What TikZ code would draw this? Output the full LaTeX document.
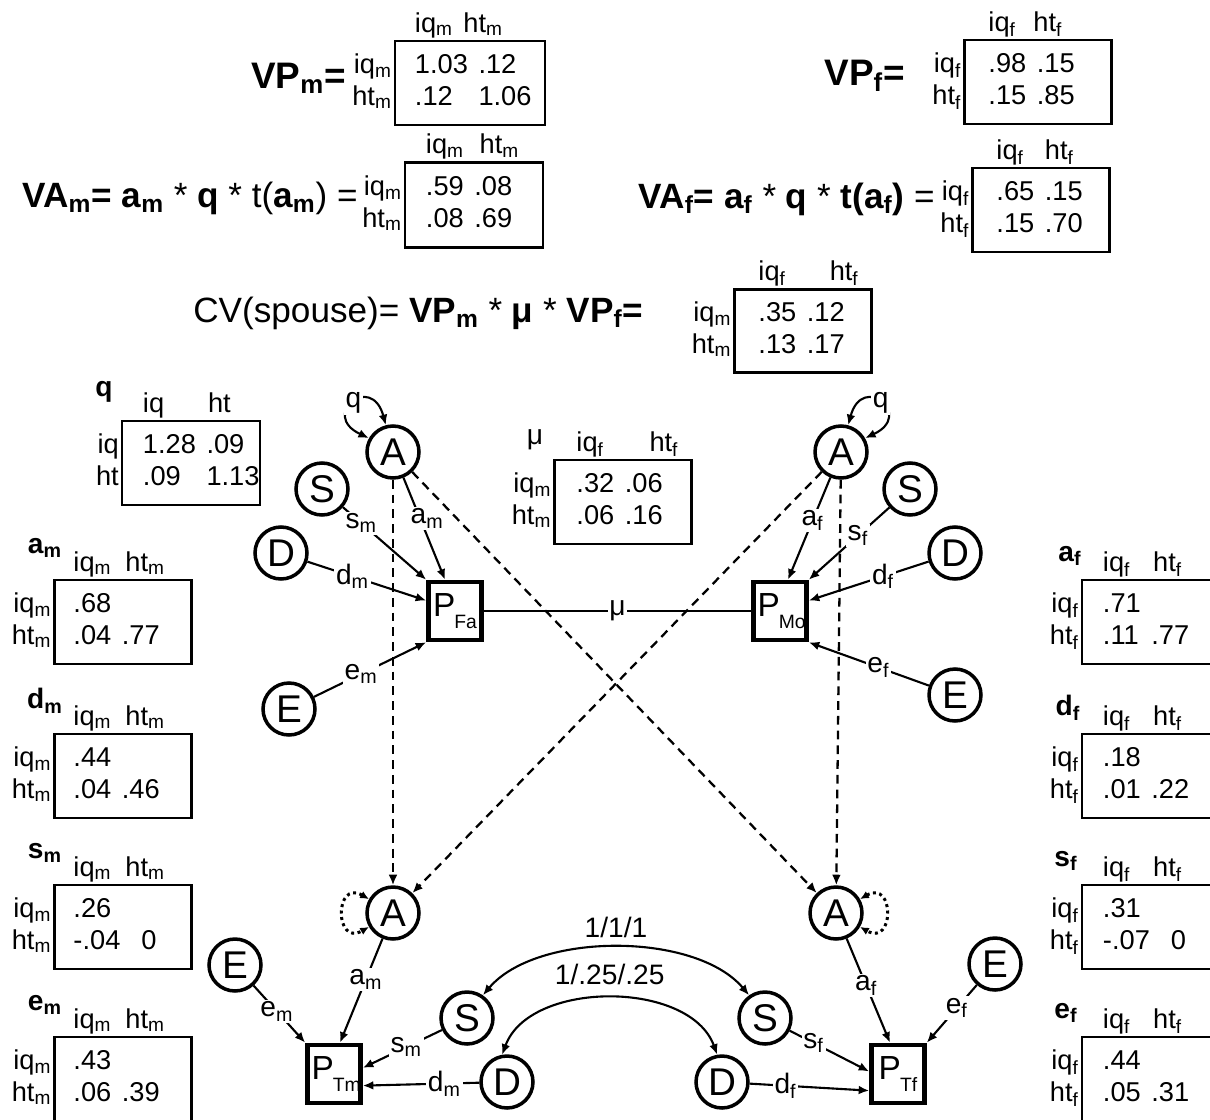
\documentclass[tikz,border=0pt]{standalone}
\usepackage{fontspec}
\setmainfont{Liberation Sans}
\usetikzlibrary{arrows.meta,positioning}

\newcommand{\sub}[1]{\textsubscript{#1}}
\newcommand{\psub}[1]{\kern-0.5pt\raisebox{-7pt}{\fontsize{11}{12}\selectfont #1}}

\tikzset{
  latent/.style={circle, draw, line width=2pt, minimum size=1.04cm, inner sep=0pt, font=\fontsize{22}{22}\selectfont},
  obs/.style={rectangle, draw, line width=2.6pt, minimum width=1.06cm, minimum height=1.16cm, inner sep=0pt, text width=0.9cm, align=center, font=\fontsize{19}{19}\selectfont},
  line/.style={-{Latex[length=6pt,width=5pt]}, line width=1.2pt},
  dline/.style={line, dash pattern=on 5pt off 3.4pt, line width=1.3pt},
  dbl/.style={{Latex[length=6pt,width=5pt]}-{Latex[length=6pt,width=5pt]}, line width=1.2pt},
  dotloop/.style={{Latex[length=5pt,width=4.5pt]}-{Latex[length=5pt,width=4.5pt]}, dotted, line width=1.7pt},
  lbl/.style={fill=white, inner sep=1pt, font=\fontsize{16}{16}\selectfont},
  matbox/.style={draw, line width=1.3pt, inner sep=0pt},
  mtext/.style={inner sep=1pt, font=\fontsize{15.5}{18}\selectfont},
  eqtext/.style={inner sep=0pt, font=\fontsize{20}{24}\selectfont},
  tname/.style={inner sep=0pt, font=\fontsize{16}{16}\selectfont\bfseries}
}

% box, values, column labels, row labels
\newcommand{\covmat}[8]{%
  \node[matbox, minimum width=#3, minimum height=#4] (#1) at #2 {};
  \node[mtext, anchor=west] (#1-v) at ([xshift=#8]#1.west)
    {\begin{tabular}{@{}l@{\hspace{6pt}}l@{}}#5\end{tabular}};
  \node[mtext, anchor=south west] (#1-c) at ([xshift=#8]#1.north west) {#6};
  \node[mtext, anchor=east] (#1-r) at (#1.west)
    {\begin{tabular}{@{}r@{}}#7\end{tabular}};
}

\begin{document}
\begin{tikzpicture}[x=0.02cm, y=-0.02cm]
  \useasboundingbox (0,0) rectangle (1210,1119);

  % equations
  \node[eqtext, anchor=base east, font=\fontsize{21}{24}\selectfont] (vpm) at (346,88) {\textbf{VP\sub{m}=}};
  \node[eqtext, anchor=base east] (vam) at (358,207)
    {\textbf{VA\sub{m}=} \textbf{a\sub{m}} * \textbf{q} * t(\textbf{a\sub{m}}) =};
  \node[eqtext, anchor=base east, font=\fontsize{21}{24}\selectfont] (vpf) at (905,85) {\textbf{VP\sub{f}=}};
  \node[eqtext, anchor=base east] (vaf) at (935,208)
    {\textbf{VA\sub{f}= a\sub{f}} * \textbf{q} * \textbf{t(a\sub{f})} =};
  \node[eqtext, anchor=base west] (cv) at (193,322)
    {CV(spouse)= \textbf{VP\sub{m}} * \textbf{μ} * \textbf{VP\sub{f}=}};

  \covmat{VPm}{(470,83)}{3.0cm}{1.68cm}{1.03 & .12\\ .12 & 1.06}{iq\sub{m}\hspace{6pt}ht\sub{m}}{iq\sub{m}\\ht\sub{m}}{0.38cm}
  \covmat{VAm}{(474,205)}{2.76cm}{1.70cm}{.59 & .08\\ .08 & .69}{iq\sub{m}\hspace{9pt}ht\sub{m}}{iq\sub{m}\\ht\sub{m}}{0.4cm}
  \covmat{VPf}{(1038,82)}{2.94cm}{1.68cm}{.98 & .15\\ .15 & .85}{iq\sub{f}\hspace{10pt}ht\sub{f}}{iq\sub{f}\hspace{6pt}\\ht\sub{f}\hspace{6pt}}{0.46cm}
  \covmat{VAf}{(1041,210)}{2.74cm}{1.68cm}{.65 & .15\\ .15 & .70}{iq\sub{f}\hspace{12pt}ht\sub{f}}{iq\sub{f}\\ht\sub{f}}{0.46cm}
  \covmat{CV}{(803,331)}{2.74cm}{1.66cm}{.35 & .12\\ .13 & .17}{iq\sub{f}\hspace{25pt}ht\sub{f}}{iq\sub{m}\\ht\sub{m}}{0.46cm}

  % parameter matrices
  \node[tname] (qname) at (104,392) {q};
  \covmat{qmat}{(191,463)}{2.76cm}{1.68cm}{1.28 & .09\\ .09 & 1.13}{iq\hspace{25pt}ht}{iq\\ht}{0.4cm}
  \node[lbl] (muname) at (535,440) {μ};
  \covmat{mumat}{(623,502)}{2.74cm}{1.68cm}{.32 & .06\\ .06 & .16}{iq\sub{f}\hspace{26pt}ht\sub{f}}{iq\sub{m}\\ht\sub{m}}{0.42cm}

  \node[tname] (amname) at (45,548) {a\sub{m}};
  \covmat{am}{(123,622)}{2.74cm}{1.68cm}{.68 & \\ .04 & .77}{iq\sub{m}\hspace{8pt}ht\sub{m}}{iq\sub{m}\\ht\sub{m}}{0.36cm}
  \node[tname] (dmname) at (45,701) {d\sub{m}};
  \covmat{dm}{(123,776)}{2.74cm}{1.68cm}{.44 & \\ .04 & .46}{iq\sub{m}\hspace{8pt}ht\sub{m}}{iq\sub{m}\\ht\sub{m}}{0.36cm}
  \node[tname] (smname) at (45,853) {s\sub{m}};
  \covmat{sm}{(123,927)}{2.74cm}{1.68cm}{.26 & \\ -.04 & \hspace{6pt}0}{iq\sub{m}\hspace{8pt}ht\sub{m}}{iq\sub{m}\\ht\sub{m}}{0.36cm}
  \node[tname] (emname) at (45,1005) {e\sub{m}};
  \covmat{em}{(123,1079)}{2.74cm}{1.68cm}{.43 & \\ .06 & .39}{iq\sub{m}\hspace{8pt}ht\sub{m}}{iq\sub{m}\\ht\sub{m}}{0.36cm}

  \node[tname] (afname) at (1070,556) {a\sub{f}};
  \covmat{af}{(1151,622)}{2.76cm}{1.68cm}{.71 & \\ .11 & .77}{iq\sub{f}\hspace{13pt}ht\sub{f}}{iq\sub{f}\\ht\sub{f}}{0.4cm}
  \node[tname] (dfname) at (1068,708) {d\sub{f}};
  \covmat{df}{(1151,776)}{2.76cm}{1.68cm}{.18 & \\ .01 & .22}{iq\sub{f}\hspace{13pt}ht\sub{f}}{iq\sub{f}\\ht\sub{f}}{0.4cm}
  \node[tname] (sfname) at (1066,861) {s\sub{f}};
  \covmat{sf}{(1151,927)}{2.76cm}{1.68cm}{.31 & \\ -.07 & \hspace{6pt}0}{iq\sub{f}\hspace{13pt}ht\sub{f}}{iq\sub{f}\\ht\sub{f}}{0.4cm}
  \node[tname] (efname) at (1066,1013) {e\sub{f}};
  \covmat{ef}{(1151,1079)}{2.76cm}{1.68cm}{.44 & \\ .05 & .31}{iq\sub{f}\hspace{13pt}ht\sub{f}}{iq\sub{f}\\ht\sub{f}}{0.4cm}

  % parents
  \node[latent] (Atl) at (393,452) {A};
  \node[latent] (Stl) at (322,489) {S};
  \node[latent] (Dtl) at (281,553) {D};
  \node[latent] (Etl) at (289,709) {E};
  \node[obs] (PFa) at (455,611) {P\psub{Fa}};
  \node[obs] (PMo) at (780,611) {P\psub{Mo}};
  \node[latent] (Atr) at (841,452) {A};
  \node[latent] (Str) at (910,489) {S};
  \node[latent] (Dtr) at (955,553) {D};
  \node[latent] (Etr) at (955,695) {E};

  % twins
  \node[latent] (Abl) at (393,913) {A};
  \node[latent] (Abr) at (836,913) {A};
  \node[latent] (Ebl) at (235,965) {E};
  \node[latent] (Ebr) at (995,964) {E};
  \node[obs] (PTm) at (334,1074) {P\psub{Tm}};
  \node[obs] (PTf) at (898,1074) {P\psub{Tf}};
  \node[latent] (Sbl) at (467,1018) {S};
  \node[latent] (Sbr) at (765,1018) {S};
  \node[latent] (Dbl) at (507,1082) {D};
  \node[latent] (Dbr) at (722,1082) {D};

  \draw[line] (Atl) -- node[lbl, pos=0.4, xshift=4pt]{a\sub{m}} ([xshift=-0.2cm]PFa.north);
  \draw[line] (Stl) -- node[lbl, pos=0.22]{s\sub{m}} (PFa.north west);
  \draw[line] (Dtl) -- node[lbl, pos=0.38]{d\sub{m}} (PFa.160);
  \draw[line] (Etl) -- node[lbl, pos=0.42]{e\sub{m}} (PFa.south west);
  \draw[line] (Atr) -- node[lbl, pos=0.42]{a\sub{f}} ([xshift=0.16cm]PMo.north);
  \draw[line] (Str) -- node[lbl, pos=0.39]{s\sub{f}} (PMo.north east);
  \draw[line] (Dtr) -- node[lbl, pos=0.38]{d\sub{f}} (PMo.20);
  \draw[line] (Etr) -- node[lbl, pos=0.42]{e\sub{f}} (PMo.south east);
  \draw[line width=1.2pt] (PFa) -- node[lbl]{μ} (PMo);

  \draw[dbl] (Atl.105) .. controls +(105:1.1cm) and +(155:1.1cm) .. node[lbl]{q} (Atl.150);
  \draw[dbl] (Atr.75) .. controls +(75:1.1cm) and +(25:1.1cm) .. node[lbl]{q} (Atr.30);

  \draw[dline] (Atl) -- (Abl);
  \draw[dline] (Atl) -- (Abr);
  \draw[dline] (Atr) -- (Abl);
  \draw[dline] (Atr) -- (Abr);

  \draw[dotloop] (Abl.150) .. controls +(150:0.8cm) and +(210:0.8cm) .. (Abl.210);
  \draw[dotloop] (Abr.30) .. controls +(30:0.8cm) and +(-30:0.8cm) .. (Abr.-30);

  \draw[line] (Abl) -- node[lbl, pos=0.39]{a\sub{m}} ([xshift=0.12cm]PTm.north);
  \draw[line] (Ebl) -- node[lbl, pos=0.45]{e\sub{m}} (PTm.north west);
  \draw[line] (Sbl) -- node[lbl, pos=0.45]{s\sub{m}} (PTm.12);
  \draw[line] (Dbl) -- node[lbl, pos=0.3]{d\sub{m}} (PTm.-22);
  \draw[line] (Abr) -- node[lbl, pos=0.45]{a\sub{f}} ([xshift=-0.16cm]PTf.north);
  \draw[line] (Ebr) -- node[lbl, pos=0.4]{e\sub{f}} (PTf.north east);
  \draw[line] (Sbr) -- node[lbl, pos=0.3]{s\sub{f}} (PTf.175);
  \draw[line] (Dbr) -- node[lbl, pos=0.3]{d\sub{f}} (PTf.-150);

  \draw[dbl] (Sbl.55) to[out=50, in=130, looseness=0.8] node[lbl, above=4pt]{1/1/1} (Sbr.125);
  \draw[dbl] (Dbl.100) to[out=70, in=110, looseness=0.95] node[lbl, above=6pt]{1/.25/.25} (Dbr.100);
\end{tikzpicture}
\end{document}
